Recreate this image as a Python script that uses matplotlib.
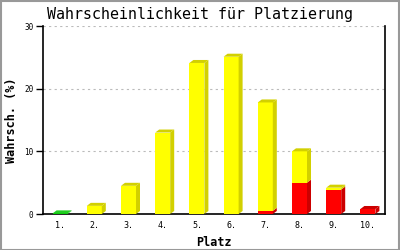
import matplotlib
matplotlib.use("Agg")
import matplotlib.pyplot as plt
from matplotlib.patches import Polygon, Rectangle
import numpy as np

categories = ["1.", "2.", "3.", "4.", "5.", "6.", "7.", "8.", "9.", "10."]
green = [0.1, 0, 0, 0, 0, 0, 0, 0, 0, 0]
yellow = [0, 1.3, 4.5, 13.0, 24.1, 25.1, 17.3, 5.0, 0.3, 0]
red = [0, 0, 0, 0, 0, 0, 0.5, 5.0, 3.9, 0.8]
yticks = [0, 10, 20, 30]

# (values, front colour, side/top colour), stacked bottom -> top
stack = [(green, "#00cc00", "#22cc22"),
         (red, "#ff0000", "#cc0000"),
         (yellow, "#ffff00", "#d2d000")]

fig = plt.figure(figsize=(4, 2.5), dpi=100)
ax = fig.add_axes([43/400, 1-214/250, 342/400, 188/250])
ax.set_xlim(0, len(categories))
ax.set_ylim(0, 30)

x = np.arange(len(categories)) + 0.5
w = 15/34.2
dx = 4/34.2
dy = 3*30/188

bottoms = np.zeros(len(categories))
tops_color = [None]*len(categories)
for vals, front, dark in stack:
    vals = np.array(vals, dtype=float)
    for i in range(len(categories)):
        v = vals[i]
        if v <= 0:
            continue
        b = bottoms[i]
        x0 = x[i] - w/2
        x1 = x[i] + w/2
        ax.add_patch(Rectangle((x0, b), w, v, facecolor=front, edgecolor="none", zorder=3))
        ax.add_patch(Polygon([(x1, b), (x1+dx, b+dy), (x1+dx, b+v+dy), (x1, b+v)],
                             closed=True, facecolor=dark, edgecolor="none", zorder=3))
        tops_color[i] = (b+v, dark)
    bottoms += vals

for i in range(len(categories)):
    if tops_color[i] is None:
        continue
    t, dark = tops_color[i]
    x0 = x[i] - w/2
    x1 = x[i] + w/2
    ax.add_patch(Polygon([(x0, t), (x0+dx, t+dy), (x1+dx, t+dy), (x1, t)],
                         closed=True, facecolor=dark, edgecolor="none", zorder=3))

ax.set_yticks(yticks)
ax.set_yticklabels([str(t) for t in yticks], fontsize=5.5, family="DejaVu Sans Mono")
ax.set_xticks(x)
ax.set_xticklabels(categories, fontsize=6, family="DejaVu Sans Mono")
ax.tick_params(axis="x", length=0, pad=5)
ax.tick_params(axis="y", length=5, width=1, pad=2, direction="out")
for yv in yticks[1:]:
    ax.axhline(yv, color="#bbbbbb", linestyle=(0, (2, 3)), linewidth=0.8, zorder=1)
ax.spines["top"].set_visible(False)
for s in ["left", "right", "bottom"]:
    ax.spines[s].set_linewidth(1.2)
    ax.spines[s].set_color("black")
ax.set_xlabel("Platz", fontsize=8.5, family="DejaVu Sans Mono", fontweight="bold", labelpad=4)
ax.set_ylabel("Wahrsch. (%)", fontsize=8.5, family="DejaVu Sans Mono", fontweight="bold", labelpad=4)
fig.text(0.5, 1-14/250, "Wahrscheinlichkeit für Platzierung", ha="center", va="center",
         fontsize=10.8, family="DejaVu Sans Mono")
fig.patches.append(Rectangle((0.002, 0.002), 0.996, 0.996, transform=fig.transFigure,
                             fill=False, edgecolor="#999999", linewidth=1.5))
fig.savefig("out.png", dpi=100)
